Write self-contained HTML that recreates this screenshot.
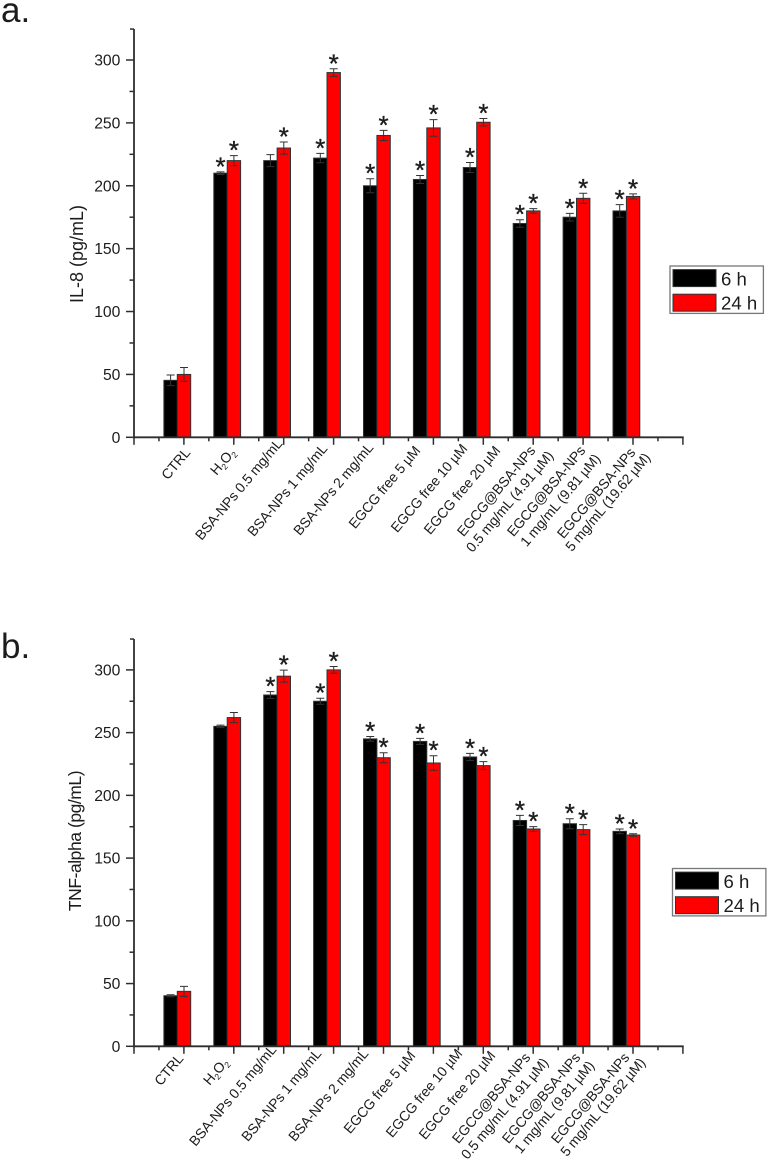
<!DOCTYPE html>
<html lang="en">
<head>
<meta charset="utf-8">
<title>IL-8 and TNF-alpha bar charts</title>
<style>
  html, body { margin: 0; padding: 0; background: #fff; }
  #figure { display: block; width: 768px; height: 1164px; font-family: "Liberation Sans", Arial, sans-serif; }
  text { fill: #1c1c1c; font-family: "Liberation Sans", Arial, sans-serif; }
</style>
</head>
<body>
<svg id="figure" xmlns="http://www.w3.org/2000/svg" width="768" height="1164" viewBox="0 0 768 1164"></svg>
<script>
// ---- data ----
const yTickValues = [0, 50, 100, 150, 200, 250, 300];
const yMinorValues = [25, 75, 125, 175, 225, 275];
const xLabelLines = ["CTRL", "H_2O_2", "BSA-NPs 0.5 mg/mL", "BSA-NPs 1 mg/mL", "BSA-NPs 2 mg/mL", "EGCG free 5 µM", "EGCG free 10 µM", "EGCG free 20 µM", "EGCG@BSA-NPs", "0.5 mg/mL (4.91 µM)", "EGCG@BSA-NPs", "1 mg/mL (9.81 µM)", "EGCG@BSA-NPs", "5 mg/mL (19.62 µM)"];
const seriesNames = ["6 h", "24 h"];

const il8Values6h = [45.3, 210, 220, 222, 200, 205, 214.5, 170, 175, 180];
const il8Values24h = [50, 220, 230, 290, 240, 246, 250.5, 180, 190, 191.5];
const il8Errors6h = [4.2, 1, 4.8, 3.7, 5.6, 3.2, 4, 3, 3, 5];
const il8Errors24h = [5.5, 4, 4.8, 3, 4, 6.6, 3, 1.8, 4, 2];
const il8Stars6h = [0, 1, 0, 1, 1, 1, 1, 1, 1, 1];
const il8Stars24h = [0, 1, 1, 1, 1, 1, 1, 1, 1, 1];

const tnfValues6h = [40.3, 255, 280, 275, 245, 243, 230.6, 180, 177.4, 171.3];
const tnfValues24h = [43.8, 262, 295, 300, 230, 225.8, 223.7, 173.2, 172.7, 168.4];
const tnfErrors6h = [0.8, 1, 2.7, 2.4, 1.9, 2.4, 2.9, 4, 4, 1.9];
const tnfErrors24h = [4, 4, 4.8, 2.7, 4, 5.8, 3.2, 1.9, 4, 1];
const tnfStars6h = [0, 0, 1, 1, 1, 1, 1, 1, 1, 1];
const tnfStars24h = [0, 0, 1, 1, 1, 1, 1, 1, 1, 1];

// ---- text placement (layout only, not data) ----
const labelAnchorsIl8 = [[191,453],[236,453],[283,444],[328,449],[374,448],[421,451],[468,449],[501,451],[536,451],[554,456],[586,451],[601,459],[636,453],[651,458]];
const labelAnchorsTnf = [[184,1059],[229,1063],[277,1050],[322,1054],[369,1054],[416,1056],[463,1054],[496,1056],[531,1058],[549,1063],[581,1058],[595,1066],[630,1058],[646,1063]];

// ---- drawing ----
const svg = document.getElementById('figure');
const NS = 'http://www.w3.org/2000/svg';
const RED = '#ff0000', DARK = '#2e3436', AXIS = '#2e2e2e';

function make(parent, tag, attrs, text) {
  const node = document.createElementNS(NS, tag);
  for (const k in attrs) node.setAttribute(k, attrs[k]);
  if (text !== undefined) node.textContent = text;
  parent.appendChild(node);
  return node;
}

function drawChart(cfg) {
  const group = make(svg, 'g', {});
  
  

  const yScale = v => cfg.y0 - v * cfg.pxPerUnit;
  const xTick = k => 134 + 49.9 * k;
  const groupX = i => 177.3 + 49.9 * i;
  const barW = 13.4;

  const panel = make(group, 'text', { x: cfg.panelX, y: cfg.panelY, 'font-size': 35 }, cfg.panel);
  
  

  // bars and error bars
  function drawBar(i, value, err, star, left, fill, series) {
    const cx = left + barW / 2;
    const bar = make(group, 'rect', { x: left, y: yScale(value), width: barW, height: cfg.y0 - yScale(value), fill: fill, stroke: DARK, 'stroke-width': 1 });
    
    
    const errTop = yScale(value + err), errBottom = yScale(value - err);
    const whisker = make(group, 'path', {
      d: 'M' + cx + ' ' + errBottom + 'V' + errTop + 'M' + (cx - 4) + ' ' + errTop + 'H' + (cx + 4) + 'M' + (cx - 4) + ' ' + errBottom + 'H' + (cx + 4),
      fill: 'none', stroke: '#333', 'stroke-width': 1
    });
    
    
    if (star) {
      const mark = make(group, 'text', { x: cx, y: errTop + 3.5, 'font-size': 26, 'text-anchor': 'middle', stroke: '#1c1c1c', 'stroke-width': 0.35 }, '*');
      
      
    }
  }
  cfg.values6.forEach((v, i) => {
    drawBar(i, v, cfg.errors6[i], cfg.stars6[i], groupX(i) - barW, '#000000', '6h');
    drawBar(i, cfg.values24[i], cfg.errors24[i], cfg.stars24[i], groupX(i), RED, '24h');
  });

  // y axis
  const yLine = make(group, 'line', { x1: 134, x2: 134, y1: yScale(cfg.yMax), y2: cfg.y0 + 1, stroke: AXIS, 'stroke-width': 1.8 });
  
  
  const yEnd = make(group, 'line', { x1: 130, x2: 134, y1: yScale(cfg.yMax), y2: yScale(cfg.yMax), stroke: AXIS, 'stroke-width': 1.5 });
  
  
  yTickValues.forEach(v => {
    const tick = make(group, 'line', { x1: 126, x2: 134, y1: yScale(v), y2: yScale(v), stroke: AXIS, 'stroke-width': 1.5 });
    
    
    const label = make(group, 'text', { x: 120.4, y: yScale(v) + 5.6, 'font-size': 15.7, 'text-anchor': 'end' }, String(v));
    
    
  });
  yMinorValues.forEach(v => {
    const tick = make(group, 'line', { x1: 129.5, x2: 134, y1: yScale(v), y2: yScale(v), stroke: AXIS, 'stroke-width': 1.5 });
    
    
  });
  const yTitle = make(group, 'text', { transform: 'translate(' + cfg.titleX + ' ' + cfg.titleY + ') rotate(-90)', 'font-size': cfg.titleSize, 'letter-spacing': cfg.titleTrack, 'text-anchor': 'middle' }, cfg.yTitle);
  
  

  // x axis
  const xLine = make(group, 'line', { x1: 133.2, x2: xTick(11) + 0.8, y1: cfg.y0, y2: cfg.y0, stroke: AXIS, 'stroke-width': 1.8 });
  
  
  for (let k = 0; k <= 11; k++) {
    const major = make(group, 'line', { x1: xTick(k), x2: xTick(k), y1: cfg.y0, y2: cfg.y0 + 7.5, stroke: AXIS, 'stroke-width': 1.5 });
    
    
    if (k < 11) {
      const minor = make(group, 'line', { x1: xTick(k + 0.5), x2: xTick(k + 0.5), y1: cfg.y0, y2: cfg.y0 + 4, stroke: AXIS, 'stroke-width': 1.5 });
      
      
    }
  }
  xLabelLines.forEach((line, i) => {
    const a = cfg.anchors[i];
    const label = make(group, 'text', { transform: 'translate(' + a[0] + ' ' + a[1] + ') rotate(-50)', 'font-size': cfg.labelSize, 'letter-spacing': -0.15, 'text-anchor': 'end' });
    
    
    line.split(/_(\d)/).forEach((part, p) => {
      if (!part) return;
      if (p % 2) {
        make(label, 'tspan', { 'font-size': cfg.labelSize * 0.62, dy: 3 }, part);
      } else {
        make(label, 'tspan', p ? { dy: -3 } : {}, part);
      }
    });
  });

  // legend
  const legend = make(group, 'g', { transform: 'translate(' + cfg.legendX + ' ' + cfg.legendY + ')' });
  
  
  const frame = make(legend, 'rect', { x: 0, y: 0, width: 93.4, height: 47.4, fill: '#fff', stroke: '#777', 'stroke-width': 1.3 });
  
  
  const swatchFill = ['#000000', RED], swatchTop = [3.6, 28.2], textBase = [19.5, 43.6];
  seriesNames.forEach((name, s) => {
    const swatch = make(legend, 'rect', { x: 3, y: swatchTop[s], width: 43, height: 17, fill: swatchFill[s], stroke: DARK, 'stroke-width': 1 });
    
    
    const entry = make(legend, 'text', { x: 51, y: textBase[s], 'font-size': 18.6 }, name);
    
    
  });
}

drawChart({
  key: 'il-8', panel: 'a.', panelX: 1, panelY: 22,
  y0: 437.3, pxPerUnit: 1.2577, yMax: 324.6,
  yTitle: 'IL-8 (pg/mL)', titleX: 83, titleY: 254, titleSize: 18, titleTrack: 0,
  labelSize: 14, anchors: labelAnchorsIl8,
  values6: il8Values6h, values24: il8Values24h, errors6: il8Errors6h, errors24: il8Errors24h, stars6: il8Stars6h, stars24: il8Stars24h,
  legendX: 670, legendY: 266
});
drawChart({
  key: 'tnf-alpha', panel: 'b.', panelX: 1, panelY: 658,
  y0: 1046.3, pxPerUnit: 1.2547, yMax: 324.6,
  yTitle: 'TNF-alpha (pg/mL)', titleX: 81, titleY: 841, titleSize: 17.5, titleTrack: -0.45,
  labelSize: 14, anchors: labelAnchorsTnf,
  values6: tnfValues6h, values24: tnfValues24h, errors6: tnfErrors6h, errors24: tnfErrors24h, stars6: tnfStars6h, stars24: tnfStars24h,
  legendX: 672.5, legendY: 868.5
});
</script>
</body>
</html>
